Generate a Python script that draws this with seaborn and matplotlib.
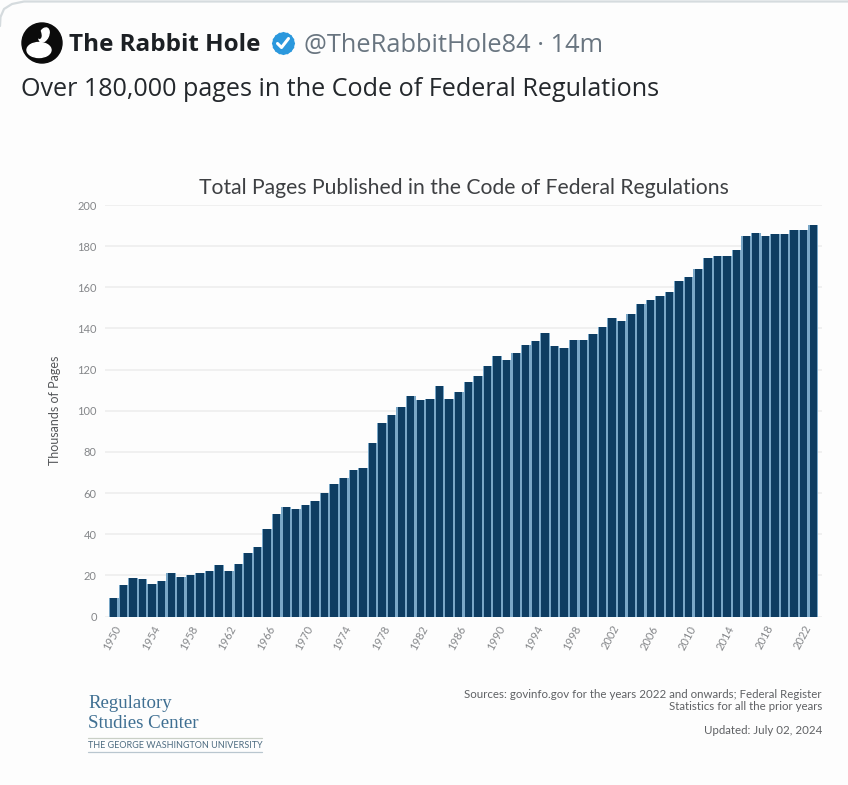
import numpy as np
import pandas as pd
import matplotlib
matplotlib.use("Agg")
import matplotlib.pyplot as plt
import matplotlib.patches as mpatches
from matplotlib.lines import Line2D
import seaborn as sns

years = list(range(1950, 2024))
pages = [9, 15.5, 18.9, 18, 16, 17.4, 21, 19, 20, 21,
         22.3, 24.8, 22.3, 25.3, 31, 34, 42.6, 50, 53, 52.3,
         54.4, 56.3, 60, 64.5, 67.5, 71, 72.4, 84.5, 94, 98,
         102, 107, 105, 105.5, 112, 105.5, 109, 114, 117, 121.6,
         126.5, 124.6, 128, 132, 134, 138, 131.5, 130.6, 134.3, 134.3,
         137.5, 140.6, 145, 143.7, 147, 152, 153.7, 155.7, 157.5, 163,
         165, 169, 174.3, 175.3, 175, 178, 185, 186.5, 185, 185.8,
         185.8, 188, 188, 190.2]
y_ticks = list(range(0, 201, 20))

W, H = 848, 785
BAR = "#0e3d62"
GAP = "#7aa7c7"
GREY = "#85878a"

sns.set_style("white")
plt.rcParams["font.family"] = ["Lato", "DejaVu Sans"]

df = pd.DataFrame({"year": years, "pages": pages})

fig = plt.figure(figsize=(W / 100, H / 100), dpi=100, facecolor="#fdfdfd")
ax = fig.add_axes([105 / W, 1 - 616.5 / H, (822 - 105) / W, (616.5 - 205) / H])
ax.set_facecolor("none")

# light layer shows through between the bars
sns.barplot(data=df, x="year", y="pages", color=GAP, width=1.0, saturation=1, ax=ax, zorder=2, lw=0)
sns.barplot(data=df, x="year", y="pages", color=BAR, width=0.77, saturation=1, ax=ax, zorder=3, lw=0)

ax.set_xlim(-0.91, 73.91)
ax.set_ylim(0, 200)
ax.set_yticks(y_ticks)
ax.set_xticks(range(0, 74, 4))
ax.set_xticklabels(years[::4], rotation=62, ha="right", va="top", rotation_mode="anchor")
ax.tick_params(axis="both", length=0, labelsize=8, labelcolor=GREY)
ax.tick_params(axis="x", pad=5)
ax.tick_params(axis="y", pad=6)
ax.grid(axis="y", color="#eeeeee", lw=1.2, zorder=0)
ax.set_axisbelow(True)
ax.set_xlabel("")
ax.set_ylabel("")
sns.despine(ax=ax, left=True, bottom=True)

# overlay in pixel coordinates for the tweet header and footer
ov = fig.add_axes([0, 0, 1, 1], zorder=5)
ov.set_xlim(0, W)
ov.set_ylim(H, 0)
ov.axis("off")

# card border
ov.plot([0, 0.5, 4, 12, 24, W], [26, 17, 9, 4, 1.5, 1.5], color="#d5dbde", lw=1.6)

# avatar
ov.add_patch(mpatches.Circle((42, 43), 20, color="#0b0b0b"))
ov.add_patch(mpatches.Ellipse((39, 50), 24, 15, color="white"))
ov.add_patch(mpatches.Ellipse((44, 35), 9, 15, angle=25, color="white"))
ov.add_patch(mpatches.Ellipse((38, 33), 5, 11, angle=-20, color="#0b0b0b"))

ov.text(69, 45, "The Rabbit Hole", fontsize=17.5, fontweight="bold", family="Open Sans",
        color="#1c2024", va="center")

# verified badge
ov.scatter([283], [43], s=280, marker=(8, 0, 0), color="#2b98dd", lw=0)
ov.scatter([283], [43], s=280, marker=(8, 0, 22.5), color="#2b98dd", lw=0)
ov.plot([277.5, 281.5, 288.5], [43.5, 47.5, 38.5], color="white", lw=2.2)

ov.text(304, 45, "@TheRabbitHole84 · 14m", fontsize=18.3, family="Open Sans",
        color="#697580", va="center")
ov.text(21, 89, "Over 180,000 pages in the Code of Federal Regulations", fontsize=18.1,
        family="Open Sans", color="#24282c", va="center")

ov.text(463.5, 188, "Total Pages Published in the Code of Federal Regulations", fontsize=15.2,
        color="#3e4043", ha="center", va="center")
ov.text(55, 410, "Thousands of Pages", fontsize=9, color="#55575a", rotation=90,
        ha="center", va="center")

# footer
ov.text(88, 704, "Regulatory", fontsize=13.6, family="Liberation Serif", color="#3f6f92", va="center")
ov.text(88, 723, "Studies Center", fontsize=13.6, family="Liberation Serif", color="#3f6f92", va="center")
ov.add_artist(Line2D([88, 262], [738, 738], color="#c9cfc6", lw=0.9))
ov.add_artist(Line2D([88, 262], [751.5, 751.5], color="#b9c6cf", lw=0.9))
ov.text(88, 745, "THE GEORGE WASHINGTON UNIVERSITY", fontsize=6.5, color="#4d6b80", va="center")

ov.text(822, 694, "Sources: govinfo.gov for the years 2022 and onwards; Federal Register", fontsize=8.3,
        color="#5f6164", ha="right", va="center")
ov.text(822, 706, "Statistics for all the prior years", fontsize=8.3, color="#5f6164", ha="right", va="center")
ov.text(822, 731, "Updated: July 02, 2024", fontsize=8.3, color="#5f6164", ha="right", va="center")

fig.savefig("out.png", dpi=100, facecolor=fig.get_facecolor())
